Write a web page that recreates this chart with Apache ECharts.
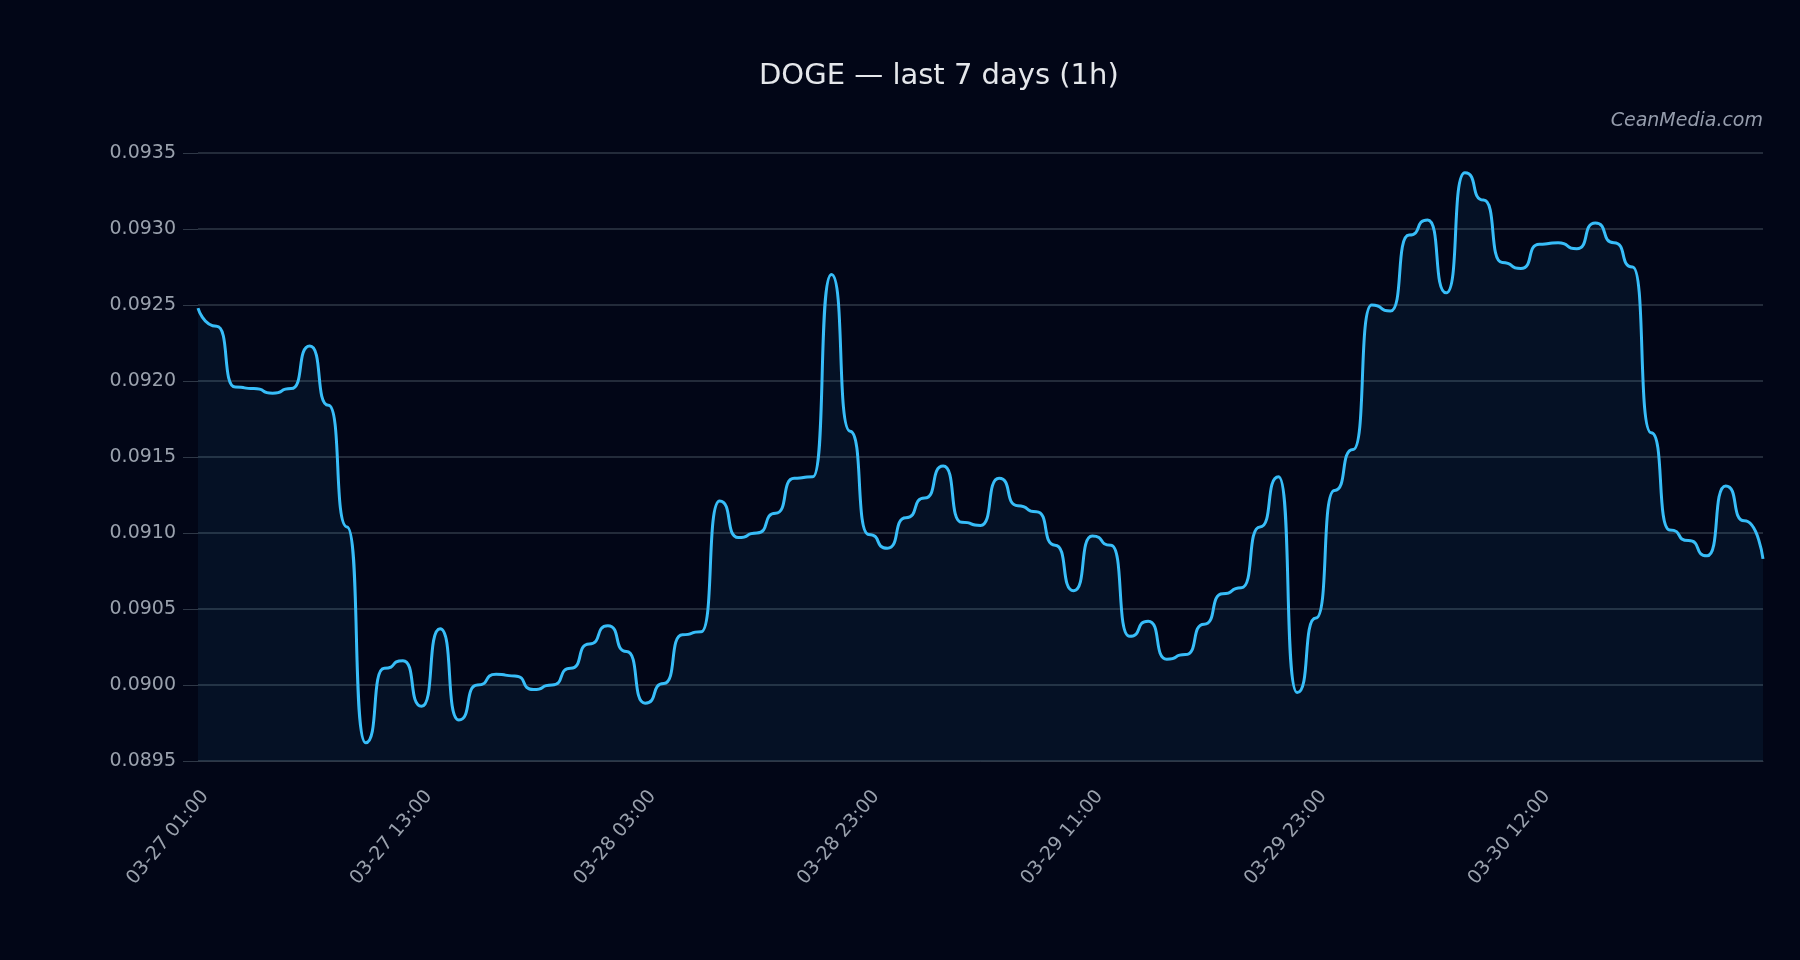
<!DOCTYPE html>
<html lang="en">
<head>
    <meta charset="utf-8">
    <title>DOGE 1h</title>
    <script src="https://cdn.jsdelivr.net/npm/echarts@6.0.0/dist/echarts.min.js"></script>
    <style>
        html, body { margin: 0; padding: 0; background: #020617; }
        #main { width: 1800px; height: 960px; }
    </style>
</head>
<body>
<div id="main"></div>
<script>
    // hourly closes (some hours are missing in the feed)
    var times = [
        '03-27 01:00', '03-27 02:00', '03-27 03:00', '03-27 04:00', '03-27 05:00', '03-27 06:00',
        '03-27 07:00', '03-27 08:00', '03-27 09:00', '03-27 10:00', '03-27 11:00', '03-27 12:00',
        '03-27 13:00', '03-27 14:00', '03-27 15:00', '03-27 16:00', '03-27 17:00', '03-27 19:00',
        '03-27 20:00', '03-27 21:00', '03-27 23:00', '03-28 00:00', '03-28 01:00', '03-28 02:00',
        '03-28 03:00', '03-28 04:00', '03-28 05:00', '03-28 06:00', '03-28 07:00', '03-28 16:00',
        '03-28 17:00', '03-28 18:00', '03-28 19:00', '03-28 20:00', '03-28 21:00', '03-28 22:00',
        '03-28 23:00', '03-29 00:00', '03-29 01:00', '03-29 02:00', '03-29 03:00', '03-29 04:00',
        '03-29 05:00', '03-29 06:00', '03-29 07:00', '03-29 08:00', '03-29 09:00', '03-29 10:00',
        '03-29 11:00', '03-29 12:00', '03-29 13:00', '03-29 14:00', '03-29 15:00', '03-29 16:00',
        '03-29 17:00', '03-29 18:00', '03-29 19:00', '03-29 20:00', '03-29 21:00', '03-29 22:00',
        '03-29 23:00', '03-30 00:00', '03-30 01:00', '03-30 02:00', '03-30 03:00', '03-30 04:00',
        '03-30 06:00', '03-30 07:00', '03-30 08:00', '03-30 09:00', '03-30 10:00', '03-30 11:00',
        '03-30 12:00', '03-30 13:00', '03-30 14:00', '03-30 15:00', '03-30 16:00', '03-30 17:00',
        '03-30 18:00', '03-30 19:00', '03-30 20:00', '03-30 21:00', '03-30 22:00', '03-30 23:00',
        '03-31 00:00'
    ];
    var prices = [
        0.09248, 0.09236, 0.09196, 0.09195, 0.09192, 0.09195, 0.09223, 0.09184, 0.09104, 0.08962,
        0.09011, 0.09016, 0.08986, 0.09037, 0.08977, 0.09000, 0.09007, 0.09006, 0.08997, 0.09000,
        0.09011, 0.09027, 0.09039, 0.09022, 0.08988, 0.09001, 0.09033, 0.09035, 0.09121, 0.09097,
        0.09100, 0.09113, 0.09136, 0.09137, 0.09270, 0.09167, 0.09099, 0.09090, 0.09110, 0.09123,
        0.09144, 0.09107, 0.09105, 0.09136, 0.09118, 0.09114, 0.09092, 0.09062, 0.09098, 0.09092,
        0.09032, 0.09042, 0.09017, 0.09020, 0.09040, 0.09060, 0.09064, 0.09104, 0.09137, 0.08995,
        0.09044, 0.09128, 0.09155, 0.09250, 0.09246, 0.09296, 0.09306, 0.09258, 0.09337, 0.09319,
        0.09278, 0.09274, 0.09290, 0.09291, 0.09287, 0.09304, 0.09291, 0.09275, 0.09166, 0.09102,
        0.09095, 0.09085, 0.09131, 0.09108, 0.09083
    ];
    var yTicks = { min: 0.0895, max: 0.0935, step: 0.0005 };
    var labelEvery = 12;
    var lastLabel = 72;

    var myChart = echarts.init(document.getElementById('main'));
    myChart.setOption({
        backgroundColor: '#020617',
        animation: false,
        textStyle: { fontFamily: 'DejaVu Sans' },
        title: {
            text: 'DOGE — last 7 days (1h)',
            left: 754,
            top: 57,
            textStyle: { color: '#e5e7eb', fontSize: 29, fontWeight: 'normal' }
        },
        graphic: [{
            type: 'text',
            right: 37,
            top: 112,
            style: {
                text: 'CeanMedia.com',
                fill: '#959cac',
                font: 'italic 19px "DejaVu Sans"'
            }
        }],
        grid: { left: 198, right: 37, top: 153, bottom: 199, containLabel: false, outerBoundsMode: 'none' },
        xAxis: {
            type: 'category',
            data: times,
            boundaryGap: false,
            axisLine: { show: true, lineStyle: { color: '#2f3847' } },
            axisTick: { show: false },
            axisLabel: {
                color: '#9aa1ad',
                fontSize: 19,
                rotate: 50,
                align: 'right',
                verticalAlign: 'top',
                margin: 26,
                interval: function (i) { return i % labelEvery === 0 && i <= lastLabel; }
            },
            splitLine: { show: false }
        },
        yAxis: {
            type: 'value',
            min: yTicks.min,
            max: yTicks.max,
            interval: yTicks.step,
            axisLine: { show: false },
            axisTick: { show: true, length: 15, lineStyle: { color: '#2f3847' } },
            axisLabel: {
                color: '#9aa1ad',
                fontSize: 19,
                margin: 22,
                formatter: function (v) { return v.toFixed(4); }
            },
            splitLine: { lineStyle: { color: '#2f3847', width: 1.5 } }
        },
        series: [{
            name: 'DOGE',
            type: 'line',
            data: prices,
            // flat step per hour joined by a steep S-curve, like the source
            smooth: 0.72,
            smoothMonotone: 'x',
            showSymbol: false,
            lineStyle: { color: '#38bdf8', width: 3 },
            areaStyle: { color: 'rgba(56,189,248,0.09)' }
        }]
    });
</script>
</body>
</html>
